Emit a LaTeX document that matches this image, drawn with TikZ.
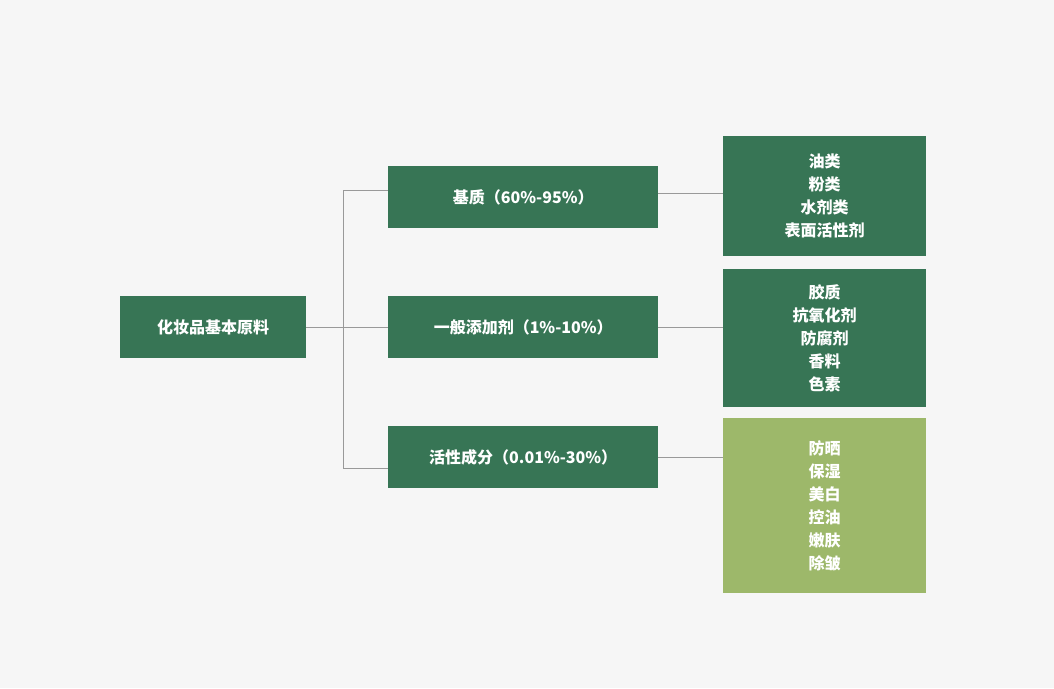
\documentclass[tikz,border=0pt]{standalone}
\usepackage{fontspec}
\setmainfont{Noto Sans CJK SC}
\definecolor{dg}{HTML}{377555}
\definecolor{lg}{HTML}{9DB86A}
\definecolor{bg}{HTML}{F6F6F6}
\begin{document}
\begin{tikzpicture}[x=1pt,y=-1pt,
 box/.style={fill=#1,text=white,font=\fontsize{16}{23}\selectfont\bfseries,align=center,inner sep=0pt,anchor=north west},
 ln/.style={draw=gray!80,line width=0.6pt}]
\fill[bg] (0,0) rectangle (1054,688);
\useasboundingbox (0,0) rectangle (1054,688);
\node[box=dg,minimum width=186,minimum height=62] (r) at (120,296) {化妆品基本原料};
\node[box=dg,minimum width=270,minimum height=62] (m1) at (388,166) {基质（60\%-95\%）};
\node[box=dg,minimum width=270,minimum height=62] (m2) at (388,296) {一般添加剂（1\%-10\%）};
\node[box=dg,minimum width=270,minimum height=62] (m3) at (388,426) {活性成分（0.01\%-30\%）};
\node[box=dg,minimum width=203,minimum height=120] (c1) at (723,136) {油类\\粉类\\水剂类\\表面活性剂};
\node[box=dg,minimum width=203,minimum height=138] (c2) at (723,269) {胶质\\抗氧化剂\\防腐剂\\香料\\色素};
\node[box=lg,minimum width=203,minimum height=175] (c3) at (723,418) {防晒\\保湿\\美白\\控油\\嫩肤\\除皱};
\coordinate (j) at (343,327);
\draw[ln] (r.east) -- (m2.west);
\draw[ln] (m1.west|-0,190) -- (343,190) -- (343,468) -- (m3.west|-0,468);
\draw[ln] (m1.east|-0,193) -- (c1.west|-0,193);
\draw[ln] (m2.east) -- (c2.west|-m2.east);
\draw[ln] (m3.east) -- (c3.west|-m3.east);
\end{tikzpicture}
\end{document}
